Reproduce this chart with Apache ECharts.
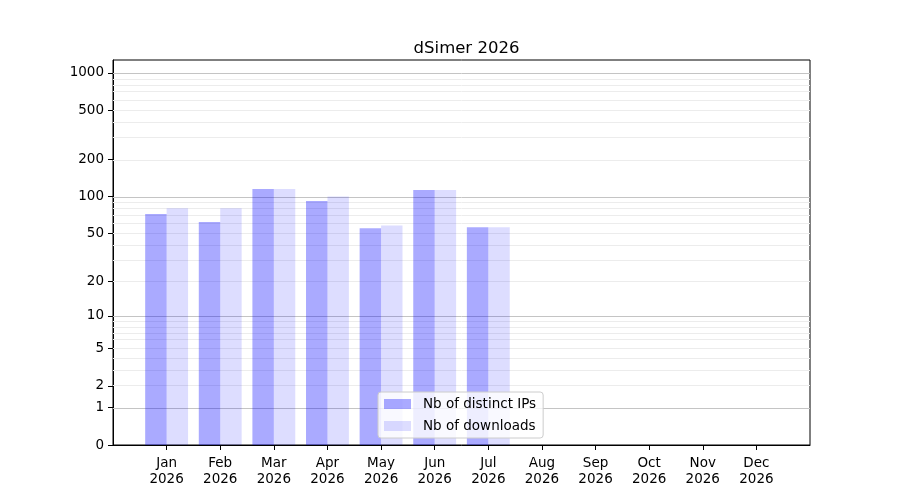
<!DOCTYPE html>
<html>
<head>
<meta charset="utf-8">
<title>dSimer 2026</title>
<script src="https://cdn.jsdelivr.net/npm/echarts@6.0.0/dist/echarts.min.js"></script>
</head>
<body style="margin:0">
<div id="main" style="width:900px;height:500px;"></div>
<script>
const year = '2026';
const months = ['Jan', 'Feb', 'Mar', 'Apr', 'May', 'Jun', 'Jul', 'Aug', 'Sep', 'Oct', 'Nov', 'Dec'];
const distinctIPs = [72, 62, 115, 92, 55, 113, 56, 0, 0, 0, 0, 0];
const downloads = [80, 80, 115, 100, 58, 113, 56, 0, 0, 0, 0, 0];
const yTicks = [0, 1, 2, 5, 10, 20, 50, 100, 200, 500, 1000];
const majorGrid = [1, 10, 100, 1000];
const minorGrid = [2, 3, 4, 5, 6, 7, 8, 9, 20, 30, 40, 50, 60, 70, 80, 90,
                   200, 300, 400, 500, 600, 700, 800, 900];
const yTop = 1273;

// symlog-ish scale: log10(1 + v), 0 stays at 0
function sl(v) { return Math.log10(1 + v); }

// pad one empty slot on each side so the axis runs from -1 to 12
const xCats = [''].concat(months, ['']);
const pad = arr => [null].concat(arr.map(sl), [null]);

const font = 'DejaVu Sans';
const fs = 13.5;

const gridLines = majorGrid.map(v => ({ yAxis: sl(v), lineStyle: { color: '#c4c4c4' } }))
    .concat(minorGrid.map(v => ({ yAxis: sl(v), lineStyle: { color: '#ececec' } })));

const option = {
    animation: false,
    textStyle: { fontFamily: font },
    title: {
        text: 'dSimer ' + year,
        left: 461.5,
        textAlign: 'center',
        top: 35,
        textStyle: { fontFamily: font, fontSize: 16.5, fontWeight: 'normal', color: '#000' }
    },
    legend: {
        orient: 'vertical',
        left: 378,
        top: 392,
        data: ['Nb of distinct IPs', 'Nb of downloads'],
        icon: 'rect',
        itemWidth: 27,
        itemHeight: 10,
        itemGap: 8,
        padding: [5, 7, 5, 6],
        backgroundColor: 'rgba(255,255,255,0.8)',
        borderColor: '#cccccc',
        borderWidth: 1,
        borderRadius: 3,
        textStyle: { fontFamily: font, fontSize: fs, color: '#000', lineHeight: 13, padding: [0, 0, 0, 7] }
    },
    grid: {
        left: 113, right: 90, top: 60, bottom: 55,
        show: true, borderColor: '#000', borderWidth: 1
    },
    xAxis: {
        type: 'category',
        data: xCats,
        boundaryGap: false,
        axisLine: { lineStyle: { color: '#000', width: 1 } },
        axisTick: {
            length: 5,
            lineStyle: { color: '#000' },
            interval: i => i > 0 && i < xCats.length - 1
        },
        axisLabel: {
            interval: 0,
            margin: 10,
            fontFamily: font,
            fontSize: fs,
            lineHeight: 16,
            color: '#000',
            formatter: v => v ? v + '\n' + year : ''
        },
        splitLine: { show: false }
    },
    yAxis: {
        type: 'value',
        min: 0,
        max: sl(yTop),
        axisLine: { show: true, lineStyle: { color: '#000', width: 1 } },
        axisTick: {
            show: true,
            length: 5,
            lineStyle: { color: '#000' },
            customValues: yTicks.map(sl)
        },
        axisLabel: {
            margin: 9,
            padding: [3, 0, 0, 0],
            fontFamily: font,
            fontSize: fs,
            color: '#000',
            customValues: yTicks.map(sl),
            formatter: v => String(Math.round(Math.pow(10, v) - 1))
        },
        splitLine: { show: false }
    },
    series: [
        {
            name: 'Nb of distinct IPs',
            type: 'bar',
            data: pad(distinctIPs),
            barWidth: '40%',
            barGap: '0%',
            itemStyle: { color: 'rgba(0,0,255,0.333)' },
            z: 2,
            markLine: {
                silent: true,
                z: 1,
                symbol: ['none', 'none'],
                label: { show: false },
                lineStyle: { type: 'solid', width: 1 },
                emphasis: { disabled: true },
                data: gridLines
            }
        },
        {
            name: 'Nb of downloads',
            type: 'bar',
            data: pad(downloads),
            barWidth: '40%',
            barGap: '0%',
            itemStyle: { color: 'rgba(0,0,255,0.133)' },
            z: 2
        }
    ]
};

const chart = echarts.init(document.getElementById('main'));
chart.setOption(option);
</script>
</body>
</html>
